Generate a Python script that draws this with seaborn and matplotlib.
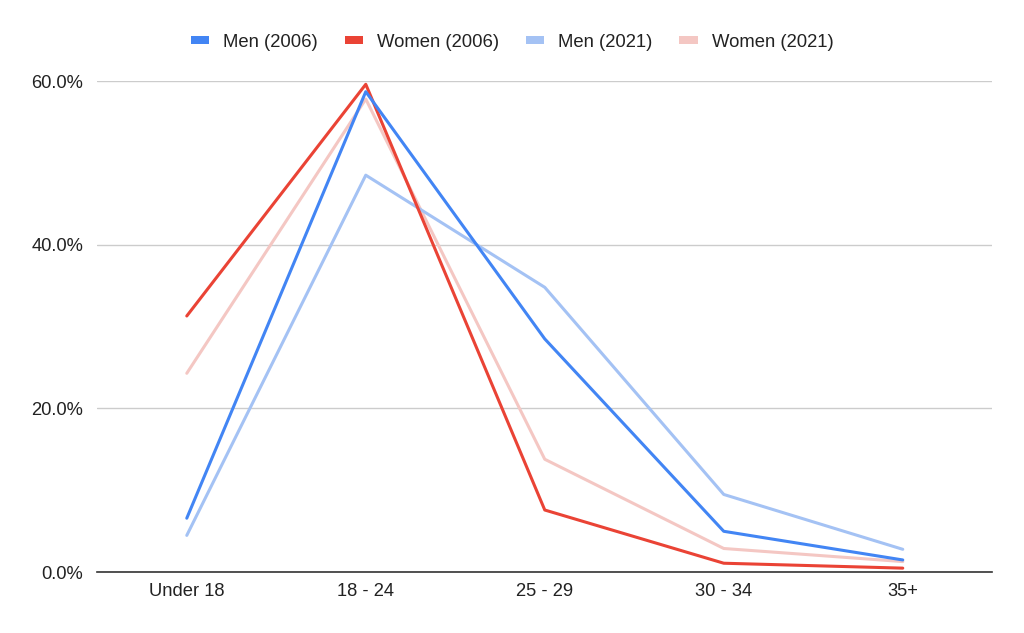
import matplotlib
matplotlib.use("Agg")
import matplotlib.pyplot as plt
import seaborn as sns
import pandas as pd
from matplotlib.patches import Patch
from matplotlib.ticker import FuncFormatter

categories = ["Under 18", "18 - 24", "25 - 29", "30 - 34", "35+"]
men_2006 = [6.6, 58.7, 28.5, 5.0, 1.5]
women_2006 = [31.3, 59.6, 7.6, 1.1, 0.5]
men_2021 = [4.5, 48.5, 34.8, 9.5, 2.8]
women_2021 = [24.3, 57.8, 13.8, 2.9, 1.3]

series_names = ["Men (2006)", "Women (2006)", "Men (2021)", "Women (2021)"]
series_values = [men_2006, women_2006, men_2021, women_2021]
colors = ["#4285F4", "#EA4335", "#A4C2F4", "#F4C7C3"]

rows = []
for name, vals in zip(series_names, series_values):
    for i, (c, v) in enumerate(zip(categories, vals)):
        rows.append({"pos": i, "cat": c, "series": name, "value": v})
df = pd.DataFrame(rows)

sns.set_theme(style="white")
plt.rcParams['font.family'] = ['Liberation Sans', 'DejaVu Sans']

fig = plt.figure(figsize=(10.24, 6.33), dpi=100)
ax = fig.add_axes([0.095, 0.096, 0.874, 0.776])

# draw in reverse order so 2006 lines sit on top of 2021 lines
order = series_names[::-1]
pal = dict(zip(series_names, colors))
for name in order:
    sub = df[df["series"] == name]
    sns.lineplot(data=sub, x="pos", y="value", color=pal[name], linewidth=2.2,
                 ax=ax, legend=False, sort=False, clip_on=False)

ax.set_xlim(-0.5, len(categories) - 0.5)
ax.set_ylim(0, 60)
ax.set_xticks(range(len(categories)))
ax.set_xticklabels(categories)
ax.set_yticks([0, 20, 40, 60])
ax.yaxis.set_major_formatter(FuncFormatter(lambda v, p: f"{v:.1f}%"))
ax.set_xlabel("")
ax.set_ylabel("")
ax.tick_params(axis="both", length=0, labelsize=13.2, colors="#222222")
ax.tick_params(axis="x", pad=8)
ax.tick_params(axis="y", pad=10)
ax.grid(axis="y", color="#cccccc", linewidth=1)
ax.set_axisbelow(True)
for s in ["top", "right", "left"]:
    ax.spines[s].set_visible(False)
ax.spines["bottom"].set_color("#333333")
ax.spines["bottom"].set_linewidth(1.2)

handles = [Patch(facecolor=c, edgecolor="none") for c in colors]
fig.legend(handles, series_names, loc="center", bbox_to_anchor=(0.5, 0.933),
           ncol=4, frameon=False, fontsize=13.3, handlelength=1.0, handleheight=0.3,
           columnspacing=1.45, handletextpad=0.75, labelcolor="#222222")

fig.savefig("out.png", dpi=100)
